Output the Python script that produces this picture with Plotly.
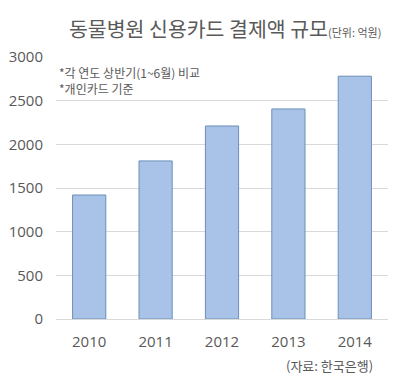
import plotly.graph_objects as go

years = ["2010", "2011", "2012", "2013", "2014"]
values = [1420, 1810, 2210, 2405, 2780]
y_ticks = [0, 500, 1000, 1500, 2000, 2500, 3000]

FONT = "Noto Sans CJK KR"
GREY = "#595959"

fig = go.Figure()
fig.add_trace(go.Bar(
    x=years, y=values,
    marker=dict(color="#a8c3e7", line=dict(color="#6a8fba", width=1)),
    width=0.5,
))

fig.update_layout(
    width=395, height=388,
    margin=dict(l=56, r=7, t=57, b=69),
    paper_bgcolor="white", plot_bgcolor="white",
    showlegend=False,
    font=dict(family=FONT, color=GREY),
    xaxis=dict(
        showgrid=False, showline=True, linecolor="#d9d9d9", linewidth=1,
        ticks="", tickfont=dict(size=15, color=GREY, family="Open Sans"),
        ticklabelstandoff=9, automargin=False,
    ),
    yaxis=dict(
        range=[0, 3000], tickvals=y_ticks,
        showgrid=True, gridcolor="#d9d9d9", gridwidth=1,
        zeroline=False, showline=False, ticks="",
        tickfont=dict(size=15, color=GREY, family="Open Sans"),
        ticklabelstandoff=12, automargin=False,
    ),
    annotations=[
        dict(x=0.5, y=1.0, xref="paper", yref="paper", xanchor="center", yanchor="bottom",
             xshift=3, yshift=12, showarrow=False,
             text="<span style='font-size:20.5px'>동물병원 신용카드 결제액 규모</span><span style='font-size:11px'>(단위: 억원)</span>",
             font=dict(family=FONT, color=GREY)),
        dict(x=0.0, y=1.0, xref="paper", yref="paper", xanchor="left", yanchor="top",
             xshift=1, yshift=-5, showarrow=False, align="left",
             text="*각 연도 상반기(1~6월) 비교<br>*개인카드 기준",
             font=dict(family=FONT, size=12, color=GREY)),
        dict(x=1.0, y=0.0, xref="paper", yref="paper", xanchor="right", yanchor="top",
             xshift=-13, yshift=-35, showarrow=False,
             text="(자료: 한국은행)",
             font=dict(family=FONT, size=13, color=GREY)),
    ],
)

fig.write_html("out.html", config={"displayModeBar": False},
               post_script="document.body.style.margin='0';")
